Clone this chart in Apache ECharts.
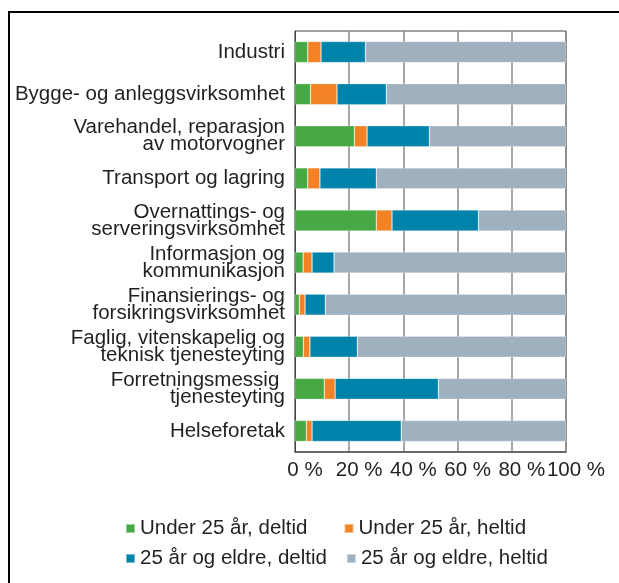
<!DOCTYPE html>
<html>
<head>
<meta charset="utf-8">
<script src="https://cdn.jsdelivr.net/npm/echarts@6/dist/echarts.min.js"></script>
<style>
  html, body { margin: 0; padding: 0; background: #fff; }
  #chart { width: 619px; height: 583px; }
</style>
</head>
<body>
<div id="chart"></div>
<script>
// kategorier (fra toppen)
var categories = [
    'Industri',
    'Bygge- og anleggsvirksomhet',
    'Varehandel, reparasjon\nav motorvogner',
    'Transport og lagring',
    'Overnattings- og\nserveringsvirksomhet',
    'Informasjon og\nkommunikasjon',
    'Finansierings- og\nforsikringsvirksomhet',
    'Faglig, vitenskapelig og\nteknisk tjenesteyting',
    'Forretningsmessig \ntjenesteyting',
    'Helseforetak'
];
var seriesNames = ['Under 25 år, deltid', 'Under 25 år, heltid', '25 år og eldre, deltid', '25 år og eldre, heltid'];
var under25Deltid = [4.7, 5.7, 21.9, 4.7, 30.0, 3.0, 1.6, 3.1, 10.8, 4.2];
var under25Heltid = [4.9, 9.8, 4.7, 4.5, 5.8, 3.3, 2.1, 2.4, 4.0, 2.1];
var eldreDeltid = [16.4, 18.2, 23.0, 20.8, 31.9, 8.1, 7.5, 17.5, 38.1, 32.9];
var eldreHeltid = [74.0, 66.3, 50.4, 70.0, 32.3, 85.6, 88.8, 77.0, 47.1, 60.8];
var xTicks = [0, 20, 40, 60, 80, 100];

var colors = ['#47a944', '#f38225', '#0083aa', '#9fb0bf'];
var font = "'Liberation Sans', Arial, sans-serif";
var txt = '#231f20';
var fs = 20.5;

var myChart = echarts.init(document.getElementById('chart'));

function bar(name, data, i) {
    return {
        name: name,
        type: 'bar',
        stack: 'tot',
        data: data,
        barCategoryGap: '50%',
        itemStyle: { color: colors[i], borderColor: 'rgba(255,255,255,0.45)', borderWidth: 0.6 },
        emphasis: { disabled: true }
    };
}

var legendText = { fontFamily: font, fontSize: fs, color: txt };

var option = {
    animation: false,
    backgroundColor: '#fff',
    graphic: [{
        type: 'rect',
        shape: { x: 9, y: 12, width: 700, height: 700 },
        style: { fill: 'none', stroke: '#000', lineWidth: 2 },
        silent: true
    }],
    grid: {
        left: 295, top: 31, width: 271, height: 421,
        show: true, borderColor: '#444', borderWidth: 1
    },
    legend: [{
        data: [seriesNames[0], seriesNames[1]],
        left: 125, top: 518, padding: 0,
        icon: 'rect', itemWidth: 9, itemHeight: 9, itemGap: 36,
        textStyle: legendText
    }, {
        data: [seriesNames[2], seriesNames[3]],
        left: 125, top: 548, padding: 0,
        icon: 'rect', itemWidth: 9, itemHeight: 9, itemGap: 19,
        textStyle: legendText
    }],
    xAxis: {
        type: 'value',
        min: xTicks[0], max: xTicks[xTicks.length - 1], interval: 20,
        axisLine: { show: true, lineStyle: { color: '#555', width: 1.5 } },
        axisTick: { show: false },
        splitLine: { show: true, lineStyle: { color: '#8a8a8a', width: 1.5 } },
        axisLabel: {
            fontFamily: font, fontSize: fs, color: txt, margin: 8,
            padding: [0, 0, 0, 20],
            formatter: function (v) { return v + ' %'; }
        }
    },
    yAxis: {
        type: 'category',
        inverse: true,
        data: categories,
        axisLine: { show: true, lineStyle: { color: '#444', width: 1 } },
        axisTick: { show: false },
        axisLabel: { fontFamily: font, fontSize: fs, color: txt, margin: 10, lineHeight: 17 }
    },
    series: [
        bar(seriesNames[0], under25Deltid, 0),
        bar(seriesNames[1], under25Heltid, 1),
        bar(seriesNames[2], eldreDeltid, 2),
        bar(seriesNames[3], eldreHeltid, 3)
    ]
};

myChart.setOption(option);
</script>
</body>
</html>
